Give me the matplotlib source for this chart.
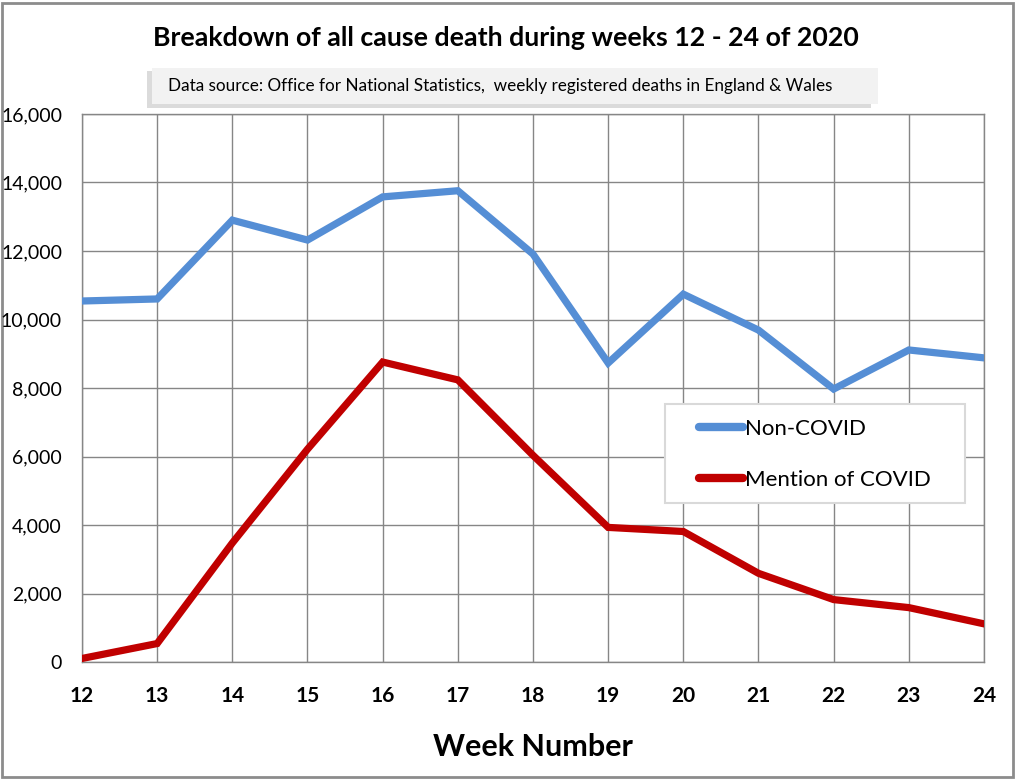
import matplotlib
matplotlib.use("Agg")
import matplotlib.pyplot as plt
from matplotlib.patches import Rectangle
from matplotlib.ticker import FuncFormatter, MultipleLocator

weeks = [12, 13, 14, 15, 16, 17, 18, 19, 20, 21, 22, 23, 24]
non_covid = [10540, 10600, 12900, 12320, 13580, 13760, 11910, 8730, 10740, 9690, 7970, 9110, 8880]
covid = [103, 539, 3475, 6213, 8758, 8237, 6035, 3930, 3810, 2589, 1822, 1588, 1114]
series_names = ["Non-COVID", "Mention of COVID"]
title = "Breakdown of all cause death during weeks 12 - 24 of 2020"
subtitle = "Data source: Office for National Statistics,  weekly registered deaths in England & Wales"
xlabel = "Week Number"

W, H = 1016, 780
fig = plt.figure(figsize=(W / 100, H / 100), dpi=100)
fig.patch.set_facecolor("white")
font = ["Lato", "DejaVu Sans"]

# outer border
fig.add_artist(Rectangle((2 / W, 3 / H), (W - 5) / W, (H - 6) / H, transform=fig.transFigure,
                         fill=False, edgecolor="#8c8c8c", linewidth=2, zorder=0))

AX_L, AX_R, AX_T, AX_B = 82, 984, 114, 662
ax = fig.add_axes([AX_L / W, 1 - AX_B / H, (AX_R - AX_L) / W, (AX_B - AX_T) / H])
ax.plot(weeks, non_covid, color="#558ED5", linewidth=5.2, solid_joinstyle="miter", label=series_names[0], zorder=3)
ax.plot(weeks, covid, color="#C00000", linewidth=5.2, solid_joinstyle="miter", label=series_names[1], zorder=3)
ax.set_xlim(12, 24)
ax.set_ylim(0, 16000)
ax.xaxis.set_major_locator(MultipleLocator(1))
ax.yaxis.set_major_locator(MultipleLocator(2000))
ax.yaxis.set_major_formatter(FuncFormatter(lambda v, p: f"{int(v):,}"))
ax.grid(True, color="#868686", linewidth=1)
ax.set_axisbelow(True)
for s in ax.spines.values():
    s.set_color("#868686")
    s.set_linewidth(1)
ax.tick_params(axis="both", length=0)
ax.tick_params(axis="y", pad=14.4, labelsize=14)
ax.tick_params(axis="x", pad=17, labelsize=15)
for lbl in ax.get_yticklabels():
    lbl.set_fontfamily(font)
for lbl in ax.get_xticklabels():
    lbl.set_fontfamily(font)
    lbl.set_fontweight("bold")
ax.set_xlabel(xlabel, fontsize=22, fontweight="bold", family=font, labelpad=20)

def px_to_ax(x, y):
    return ((x - AX_L) / (AX_R - AX_L), (AX_B - y) / (AX_B - AX_T))

# legend frame
fx0, fy0 = px_to_ax(665, 503)
fx1, fy1 = px_to_ax(965, 404)
ax.add_patch(Rectangle((fx0, fy0), fx1 - fx0, fy1 - fy0, transform=ax.transAxes, facecolor="white",
                       edgecolor="#d9d9d9", linewidth=1.5, zorder=5))
leg = ax.legend(loc="upper left", bbox_to_anchor=px_to_ax(699, 419),
                prop={"family": font, "size": 16}, frameon=False,
                handlelength=2.0, handletextpad=0.05, labelspacing=1.38, borderpad=0,
                borderaxespad=0)
leg.set_zorder(6)
for h in leg.get_lines():
    h.set_solid_capstyle("round")
    h.set_linewidth(6)

fig.text(506 / W, 1 - 38 / H, title, ha="center", va="center", fontsize=19.3, fontweight="bold", family=font)

# subtitle box with shadow
fig.add_artist(Rectangle((147 / W, 1 - 108 / H), (876 - 152) / W, (105 - 68) / H, transform=fig.transFigure,
                         facecolor="#c4c4c4", edgecolor="none", alpha=0.6))
fig.add_artist(Rectangle((152 / W, 1 - 104 / H), (878 - 152) / W, (104 - 68) / H, transform=fig.transFigure,
                         facecolor="#f2f2f2", edgecolor="none"))
fig.text(168 / W, 1 - 86 / H, subtitle, ha="left", va="center", fontsize=12.3, family=font)

fig.savefig("out.png", dpi=100)
